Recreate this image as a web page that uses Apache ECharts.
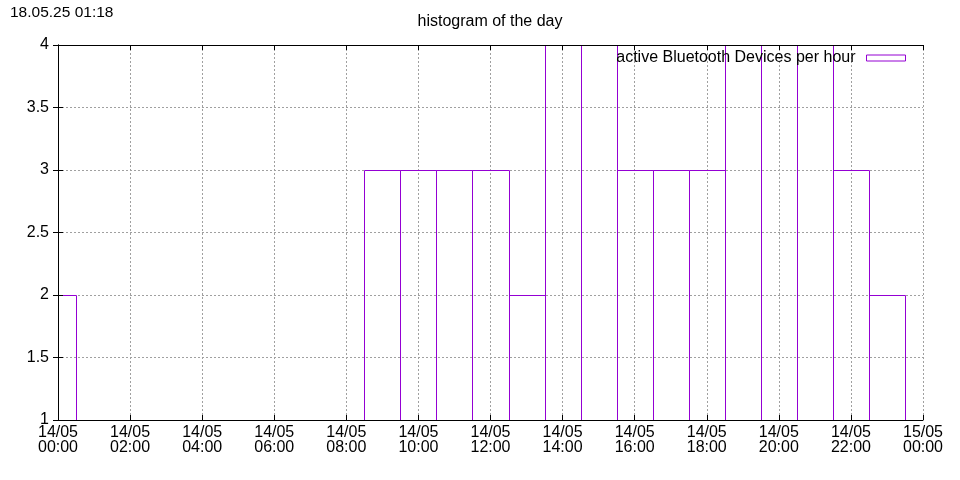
<!DOCTYPE html>
<html><head><meta charset="utf-8">
<script src="https://cdn.jsdelivr.net/npm/echarts@6/dist/echarts.min.js"></script>
<style>html,body{margin:0;padding:0;background:#fff}#c{width:960px;height:480px}</style>
</head><body><div id="c"></div>
<script>
const hours = [0,1,2,3,4,5,6,7,8,9,10,11,12,13,14,15,16,17,18,19,20,21,22,23];
const devices = [2,1,1,1,1,1,1,1,1,3,3,3,3,2,4,4,3,3,3,4,4,4,3,2];
const xTickLabels = ['14/05\n00:00','14/05\n02:00','14/05\n04:00','14/05\n06:00','14/05\n08:00','14/05\n10:00','14/05\n12:00','14/05\n14:00','14/05\n16:00','14/05\n18:00','14/05\n20:00','14/05\n22:00','15/05\n00:00'];
const seriesName = 'active Bluetooth Devices per hour';
const titleText = 'histogram of the day';
const stampText = '18.05.25 01:18';

const FONT = 'Liberation Sans';
const FS = 16;
const PURPLE = '#9400d3';
const chart = echarts.init(document.getElementById('c'), null, {renderer:'canvas'});

function px(v){ return Math.round(v) + 0.5; }

function renderItem(params, api){
  const h = api.value(0), v = api.value(1);
  const p0 = api.coord([h-0.5, 0]);
  const p1 = api.coord([h+0.5, v]);
  const cs = params.coordSys;
  const r = echarts.graphic.clipRectByRect(
    {x:p0[0], y:p1[1], width:p1[0]-p0[0], height:p0[1]-p1[1]},
    {x:cs.x, y:cs.y, width:cs.width, height:cs.height});
  if(!r || r.height < 0.5) return null;
  const st = {stroke:PURPLE, lineWidth:1, fill:null};
  const L = px(r.x), R = px(r.x + r.width), T = px(r.y), B = px(r.y + r.height);
  const kids = [];
  if (r.x > cs.x + 0.5) kids.push({type:'line', shape:{x1:L, y1:B, x2:L, y2:T}, style:st});
  if (r.x + r.width < cs.x + cs.width - 0.5) kids.push({type:'line', shape:{x1:R, y1:B, x2:R, y2:T}, style:st});
  if (r.y > cs.y + 0.5) kids.push({type:'line', shape:{x1:L, y1:T, x2:R, y2:T}, style:st});
  return {type:'group', children:kids};
}

const baseX = {type:'value', min:0, max:24, interval:2};
const baseY = {type:'value', min:1, max:4, interval:0.5};
const frameLine = {show:true, lineStyle:{color:'#000', width:1}};
const tickIn = {show:true, inside:true, length:5, lineStyle:{color:'#000', width:1}};
const grid = {type:[2,2], color:'#a0a0a0', width:1};

chart.setOption({
  animation:false,
  backgroundColor:'#fff',
  textStyle:{fontFamily:FONT},
  title:[
    {text:titleText, left:485, textAlign:'center', top:9, textStyle:{fontFamily:FONT, fontSize:FS, fontWeight:'normal', color:'#000'}},
    {text:stampText, left:5, top:0, textStyle:{fontFamily:FONT, fontSize:15.5, fontWeight:'normal', color:'#000'}}
  ],
  legend:{
    data:[{name:seriesName, itemStyle:{color:'#fff', borderColor:PURPLE, borderWidth:1}}],
    right:49, top:45, align:'right', icon:'rect',
    itemWidth:39, itemHeight:6,
    textStyle:{fontFamily:FONT, fontSize:FS, color:'#000', padding:[0,6,0,0]}
  },
  grid:{left:58, right:37, top:45, bottom:60},
  xAxis:[
    Object.assign({}, baseX, {position:'bottom', z:10, axisLine:frameLine, axisTick:tickIn, splitLine:{show:false},
      axisLabel:{margin:5, fontFamily:FONT, fontSize:FS, color:'#000', lineHeight:15, formatter:function(v){return xTickLabels[Math.round(v/2)];}}}),
    Object.assign({}, baseX, {position:'top', z:10, axisLine:frameLine, axisTick:tickIn, axisLabel:{show:false}, splitLine:{show:false}}),
    Object.assign({}, baseX, {position:'bottom', z:0, axisLine:{show:false}, axisTick:{show:false}, axisLabel:{show:false}, splitLine:{show:true, lineStyle:grid}})
  ],
  yAxis:[
    Object.assign({}, baseY, {position:'left', z:10, axisLine:frameLine, axisTick:tickIn, splitLine:{show:false},
      axisLabel:{margin:9, fontFamily:FONT, fontSize:FS, color:'#000'}}),
    Object.assign({}, baseY, {position:'right', z:10, axisLine:frameLine, axisTick:tickIn, axisLabel:{show:false}, splitLine:{show:false}}),
    Object.assign({}, baseY, {position:'left', z:0, axisLine:{show:false}, axisTick:{show:false}, axisLabel:{show:false}, splitLine:{show:true, lineStyle:grid}})
  ],
  series:[{
    name:seriesName, type:'custom', xAxisIndex:0, yAxisIndex:0, z:2,
    renderItem:renderItem,
    itemStyle:{color:'#fff', borderColor:PURPLE, borderWidth:1},
    data:hours.map(function(h,i){return [h, devices[i]];})
  }]
});
</script></body></html>
